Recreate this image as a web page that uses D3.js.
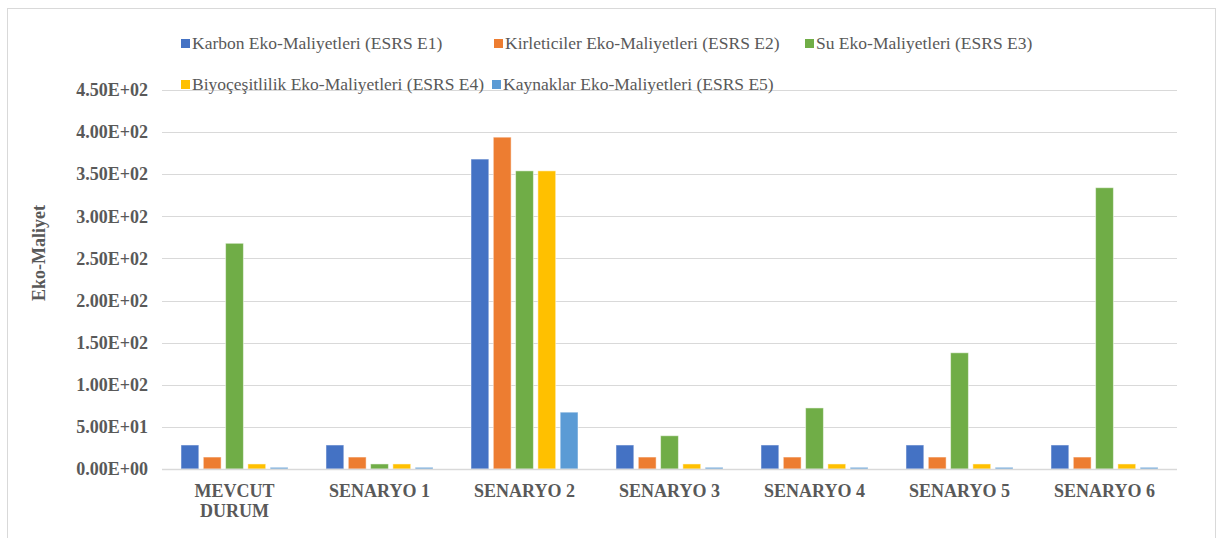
<!DOCTYPE html>
<html><head><meta charset="utf-8">
<script src="https://cdn.jsdelivr.net/npm/d3@7"></script>
<style>body{margin:0;background:#fff;}svg{display:block;} svg text{font-family:"Liberation Serif";}</style>
</head><body>
<script>
const categories = [["MEVCUT","DURUM"],["SENARYO 1"],["SENARYO 2"],["SENARYO 3"],["SENARYO 4"],["SENARYO 5"],["SENARYO 6"]];
const seriesNames = ["Karbon Eko-Maliyetleri (ESRS E1)","Kirleticiler Eko-Maliyetleri (ESRS E2)","Su Eko-Maliyetleri (ESRS E3)","Biyoçeşitlilik Eko-Maliyetleri (ESRS E4)","Kaynaklar Eko-Maliyetleri (ESRS E5)"];
const colors = ["#4472C4","#ED7D31","#70AD47","#FFC000","#5B9BD5"];
const e1 = [28.5, 28.5, 368, 28.5, 28.5, 28.5, 28.5];
const e2 = [14.2, 14.2, 394, 14.2, 14.2, 14.2, 14.2];
const e3 = [268, 6, 354, 39.5, 72.5, 138, 334];
const e4 = [6, 6, 354, 6, 6, 6, 6];
const e5 = [2, 2, 67.5, 2, 2, 2, 2];
const yTicks = [0,50,100,150,200,250,300,350,400,450];
const yTickLabels = ["0.00E+00","5.00E+01","1.00E+02","1.50E+02","2.00E+02","2.50E+02","3.00E+02","3.50E+02","4.00E+02","4.50E+02"];
const series = [e1,e2,e3,e4,e5];

(function(){
const W=1217,H=538;
const svg=d3.select("body").append("svg").attr("width",W).attr("height",H);
svg.append("rect").attr("x",7.5).attr("y",8.5).attr("width",1208).attr("height",540).attr("fill","#fff").attr("stroke","#d9d9d9");

const pL=162,pR=1177,pT=90,pB=469;
const x0=d3.scaleBand().domain(d3.range(categories.length)).range([pL,pR]).paddingInner(0.262).paddingOuter(0.131);
const x1=d3.scaleBand().domain(d3.range(series.length)).range([0,x0.bandwidth()]).paddingInner(0.2);
const y=d3.scaleLinear().domain([0,450]).range([pB,pT]);

const font='Liberation Serif';
svg.append("g").selectAll("line").data(yTicks).join("line")
  .attr("x1",pL).attr("x2",pR).attr("y1",d=>Math.round(y(d))+0.5).attr("y2",d=>Math.round(y(d))+0.5)
  .attr("stroke","#d9d9d9").attr("stroke-width",1);
const yAxis=d3.axisLeft(y).tickValues(yTicks).tickFormat((d,i)=>yTickLabels[i]).tickSize(0).tickPadding(14);
const ya=svg.append("g").attr("transform",`translate(${pL},0)`).call(yAxis);
ya.attr("font-family",font);
ya.select(".domain").remove();
ya.selectAll("text").style("font-family",font).style("font-size","18px").style("font-weight","bold").attr("fill","#595959");

const g=svg.append("g");
categories.forEach((c,ci)=>{
  series.forEach((s,si)=>{
    g.append("rect").attr("x",x0(ci)+x1(si)).attr("width",x1.bandwidth())
     .attr("y",y(s[ci])).attr("height",y(0)-y(s[ci])).attr("fill",colors[si])
     .attr("stroke","#fff").attr("stroke-opacity",0.5).attr("stroke-width",1);
  });
});
svg.append("line").attr("x1",pL).attr("x2",pR).attr("y1",pB+0.5).attr("y2",pB+0.5).attr("stroke","#d9d9d9").attr("stroke-width",1.5);

const xl=svg.append("g");
categories.forEach((c,ci)=>{
  const cx=x0(ci)+x0.bandwidth()/2;
  const t=xl.append("text").attr("x",cx).attr("y",497).attr("text-anchor","middle")
   .style("font-family",font).style("font-size","18px").style("font-weight","bold").attr("fill","#595959");
  c.forEach((line,li)=>t.append("tspan").attr("x",cx).attr("dy",li===0?0:20).text(line));
});

svg.append("text").attr("transform","translate(45,253) rotate(-90)").attr("text-anchor","middle")
  .style("font-family",font).style("font-size","18px").style("font-weight","bold").attr("fill","#595959").text("Eko-Maliyet");

const legendPos=[[181,44],[494,44],[805,44],[181,85],[492,85]];
const lg=svg.append("g");
seriesNames.forEach((n,i)=>{
  const [lx,ly]=legendPos[i];
  lg.append("rect").attr("x",lx).attr("y",ly-5).attr("width",9).attr("height",9).attr("fill",colors[i]);
  lg.append("text").attr("x",lx+11).attr("y",ly+5).style("font-family",font).style("font-size","17.5px").attr("fill","#595959").text(n);
});
})();
</script>
</body></html>
